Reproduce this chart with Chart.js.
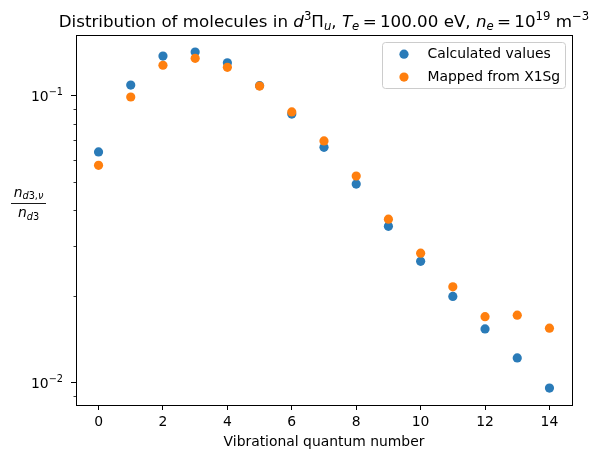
<!DOCTYPE html>
<html>
<head>
<meta charset="utf-8">
<script src="https://cdn.jsdelivr.net/npm/chart.js@4"></script>
<style>
    body { margin: 0; background: #fff; }
    #wrap { width: 601px; height: 458px; }
</style>
</head>
<body>
<div id="wrap"><canvas id="distChart" width="601" height="458"></canvas></div>
<script>
    // values
    const vibLevels = [0, 1, 2, 3, 4, 5, 6, 7, 8, 9, 10, 11, 12, 13, 14];
    const calcValues = [0.0638, 0.1092, 0.1378, 0.1423, 0.1306, 0.1086, 0.0865, 0.0662, 0.0493, 0.0351, 0.0265, 0.0200, 0.0154, 0.0122, 0.00958];
    const mappedValues = [0.0573, 0.0992, 0.1280, 0.1353, 0.1259, 0.1083, 0.0880, 0.0697, 0.0526, 0.0372, 0.0283, 0.0216, 0.0170, 0.0172, 0.0155];
    const seriesNames = ['Calculated values', 'Mapped from X1Sg'];
    const xTicks = [0, 2, 4, 6, 8, 10, 12, 14];
    const yMajorTicks = [0.01, 0.1];
    const yMinorTicks = [0.009, 0.02, 0.03, 0.04, 0.05, 0.06, 0.07, 0.08, 0.09];

    const FONT = '"DejaVu Sans"';
    const DOT = 4.6;

    function partFont(style, size) {
        const small = style.includes('sup') || style.includes('sub');
        return (style.includes('i') ? 'italic ' : '') + (small ? size * 0.7 : size) + 'px ' + FONT;
    }

    // draws text with italic / super / subscript parts, like mathtext
    function drawRich(ctx, parts, x, y, size, align) {
        let total = 0;
        parts.forEach(function (p) {
            ctx.font = partFont(p[1], size);
            total += ctx.measureText(p[0]).width;
        });
        let cx = x;
        if (align === 'center') cx = x - total / 2;
        if (align === 'right') cx = x - total;
        ctx.textAlign = 'left';
        ctx.textBaseline = 'alphabetic';
        parts.forEach(function (p) {
            ctx.font = partFont(p[1], size);
            let dy = 0;
            if (p[1].includes('sup')) dy = -0.42 * size;
            if (p[1].includes('sub')) dy = 0.2 * size;
            ctx.fillText(p[0], cx, y + dy);
            cx += ctx.measureText(p[0]).width;
        });
    }

    const decorPlugin = {
        id: 'decor',
        afterDraw(chart) {
            const ctx = chart.ctx;
            const area = chart.chartArea;
            const yScale = chart.scales.y;
            ctx.save();
            ctx.fillStyle = '#000';
            ctx.strokeStyle = '#000';

            // frame
            ctx.lineWidth = 1;
            const l = Math.floor(area.left) + 0.5, r = Math.floor(area.right) + 0.5;
            const t = Math.floor(area.top) + 0.5, b = Math.floor(area.bottom) + 0.5;
            ctx.strokeRect(l, t, r - l, b - t);

            // minor y ticks
            ctx.lineWidth = 0.8;
            yMinorTicks.forEach(function (v) {
                const py = Math.round(yScale.getPixelForValue(v)) + 0.5;
                ctx.beginPath();
                ctx.moveTo(l, py);
                ctx.lineTo(l - 3, py);
                ctx.stroke();
            });

            // y tick labels 10^n
            yScale.ticks.forEach(function (tk) {
                const py = yScale.getPixelForValue(tk.value);
                const ex = Math.round(Math.log10(tk.value));
                drawRich(ctx, [['10', ''], ['\u2212' + Math.abs(ex), 'sup']], area.left - 13, py + 5, 13.9, 'right');
            });

            // title
            drawRich(ctx, [
                ['Distribution of molecules in ', ''], ['d', 'i'], ['3', 'sup'], ['\u03a0', ''], ['u', 'i sub'],
                [', ', ''], ['T', 'i'], ['e', 'i sub'], ['\u2009=\u2009100.00 eV, ', ''],
                ['n', 'i'], ['e', 'i sub'], ['\u2009=\u200910', ''], ['19', 'sup'], [' m', ''], ['\u22123', 'sup']
            ], (area.left + area.right) / 2, 27, 16.7, 'center');

            // y label as a fraction
            drawRich(ctx, [['n', 'i'], ['d', 'i sub'], ['3,', 'sub'], ['\u03bd', 'i sub']], 28.5, 196.5, 13.9, 'center');
            ctx.lineWidth = 0.9;
            ctx.beginPath();
            ctx.moveTo(11, 203.5);
            ctx.lineTo(46, 203.5);
            ctx.stroke();
            drawRich(ctx, [['n', 'i'], ['d', 'i sub'], ['3', 'sub']], 28.5, 217, 13.9, 'center');

            // legend
            const lx = area.right - 189.5, ly = 42.5, lw = 183, lh = 46;
            ctx.beginPath();
            ctx.roundRect(lx, ly, lw, lh, 3);
            ctx.fillStyle = 'rgba(255,255,255,0.8)';
            ctx.fill();
            ctx.strokeStyle = '#cccccc';
            ctx.lineWidth = 1;
            ctx.stroke();
            chart.data.datasets.forEach(function (ds, i) {
                const my = 54.2 + i * 22.9;
                ctx.beginPath();
                ctx.arc(lx + 21.5, my, DOT, 0, Math.PI * 2);
                ctx.fillStyle = ds.backgroundColor;
                ctx.fill();
                ctx.fillStyle = '#000';
                ctx.font = '13.9px ' + FONT;
                ctx.textAlign = 'left';
                ctx.textBaseline = 'middle';
                ctx.fillText(ds.label, lx + 45, my + 0.5);
            });
            ctx.restore();
        }
    };

    const ctxDist = document.getElementById('distChart').getContext('2d');
    const distChart = new Chart(ctxDist, {
        type: 'scatter',
        data: {
            datasets: [{
                label: seriesNames[0],
                data: vibLevels.map((v, i) => ({ x: v, y: calcValues[i] })),
                backgroundColor: '#2a7bb8',
                borderWidth: 0,
                pointRadius: DOT,
                pointHoverRadius: DOT,
                order: 1
            }, {
                label: seriesNames[1],
                data: vibLevels.map((v, i) => ({ x: v, y: mappedValues[i] })),
                backgroundColor: '#ff7f0e',
                borderWidth: 0,
                pointRadius: DOT,
                pointHoverRadius: DOT,
                order: 0
            }]
        },
        options: {
            responsive: false,
            animation: false,
            layout: { padding: { left: 0, right: 29, top: 35, bottom: 0 }, autoPadding: false },
            plugins: {
                legend: { display: false },
                title: { display: false },
                tooltip: { enabled: false }
            },
            scales: {
                x: {
                    type: 'linear',
                    min: -0.7,
                    max: 14.7,
                    afterBuildTicks: (s) => { s.ticks = xTicks.map(v => ({ value: v })); },
                    afterFit: (s) => { s.height = 53; },
                    border: { display: false },
                    grid: { display: true, drawOnChartArea: false, color: '#000', tickLength: 5, tickWidth: 1 },
                    ticks: { color: '#000', font: { family: 'DejaVu Sans', size: 13.9 }, padding: 4, maxRotation: 0 },
                    title: {
                        display: true,
                        text: 'Vibrational quantum number',
                        color: '#000',
                        font: { family: 'DejaVu Sans', size: 13.9 },
                        padding: { top: 0, bottom: 7 }
                    }
                },
                y: {
                    type: 'logarithmic',
                    min: 0.008362,
                    max: 0.1632,
                    afterBuildTicks: (s) => { s.ticks = yMajorTicks.map(v => ({ value: v })); },
                    afterFit: (s) => { s.width = 76; },
                    border: { display: false },
                    grid: { display: true, drawOnChartArea: false, color: '#000', tickLength: 5, tickWidth: 1 },
                    ticks: { display: false }
                }
            }
        },
        plugins: [decorPlugin]
    });
</script>
</body>
</html>
